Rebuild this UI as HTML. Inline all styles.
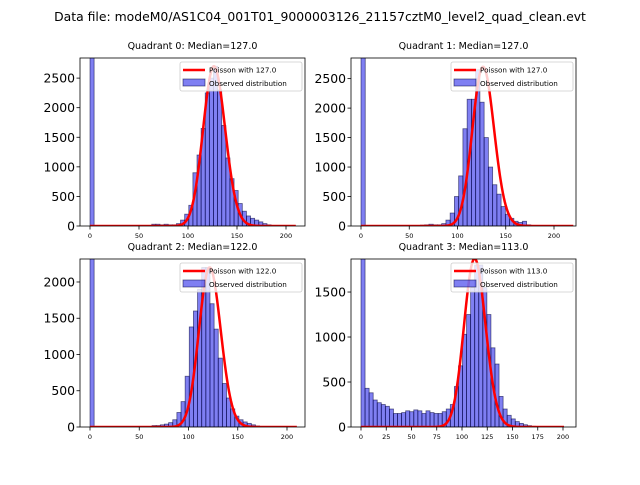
<!DOCTYPE html>
<html><head><meta charset="utf-8">
<style>
body{margin:0;background:#fff;width:640px;height:480px;overflow:hidden;font-family:"Liberation Sans","DejaVu Sans",sans-serif;}
svg text{font-family:"DejaVu Sans","Liberation Sans",sans-serif;}
</style></head>
<body>
<svg id="fig" width="640" height="480" xmlns="http://www.w3.org/2000/svg">
<rect width="640" height="480" fill="#fff"/>
<text x="320" y="21" text-anchor="middle" font-size="12.4">Data file: modeM0/AS1C04_001T01_9000003126_21157cztM0_level2_quad_clean.evt</text>
</svg>
<script>
// Quadrant data
const quadTitles = ["Quadrant 0: Median=127.0","Quadrant 1: Median=127.0","Quadrant 2: Median=122.0","Quadrant 3: Median=113.0"];
const medians = [127, 127, 122, 113];
const binWidths = [4.2, 4.4, 4.2, 4.02];
const xMaxData = [210, 220, 210, 201];
const yMaxes = [2840, 2850, 2317, 1867];
const yTicks0 = [0,500,1000,1500,2000,2500];
const yTicks1 = [0,500,1000,1500,2000,2500];
const yTicks2 = [0,500,1000,1500,2000];
const yTicks3 = [0,500,1000,1500];
const xTicks012 = [0,50,100,150,200];
const xTicks3 = [0,25,50,75,100,125,150,175,200];
const poissonPeaks = [2700, 2700, 2200, 1870];
const counts0 = [6000,0,0,0,0,0,0,0,0,0,0,0,0,0,0,30,30,20,30,20,20,40,100,200,350,900,1200,1650,2250,2500,2700,2300,1700,1150,800,600,380,250,170,130,100,70,40,20,10,5,3,0,0,0];
const counts1 = [6000,0,0,0,0,0,0,0,0,0,0,0,0,0,15,20,30,20,20,40,100,220,500,850,1650,2150,2150,2650,2100,1500,1000,700,540,330,200,130,80,60,80,20,10,5,0,0,0,0,0,0,0,0];
const counts2 = [6000,0,0,0,0,0,0,0,0,0,0,0,0,0,0,20,20,30,40,60,100,200,350,700,1380,1600,1900,2200,2200,1700,1350,950,600,400,250,150,100,70,50,30,15,8,4,2,0,0,0,0,0,0];
const counts3 = [6000,430,380,300,270,250,230,200,150,150,160,180,170,190,180,150,180,160,150,150,170,200,250,450,680,1030,1250,1550,1800,1800,1550,1250,880,700,340,200,130,90,60,40,25,15,8,3,0,0,0,0,0,0];
const allCounts = [counts0, counts1, counts2, counts3];
const allYTicks = [yTicks0, yTicks1, yTicks2, yTicks3];
const allXTicks = [xTicks012, xTicks012, xTicks012, xTicks3];

const boxes = [
 {l:80,r:305,t:58,b:226,x0:90,x200:286},
 {l:351,r:576,t:58,b:226,x0:361,x200:554},
 {l:80,r:305,t:259,b:427,x0:90,x200:287},
 {l:351,r:576,t:259,b:427,x0:361,x200:563}
];
const NS="http://www.w3.org/2000/svg";
const svg=document.getElementById('fig');
function mk(tag,attrs,parent){const e=document.createElementNS(NS,tag);for(const k in attrs)e.setAttribute(k,attrs[k]);(parent||svg).appendChild(e);return e;}
function lnPois(k,lam){let s=0;for(let i=2;i<=k;i++)s+=Math.log(i);return k*Math.log(lam)-lam-s;}

for(let q=0;q<4;q++){
 const B=boxes[q];
 const g=mk('g',{});
 
 
 const sx=v=>B.x0+(B.x200-B.x0)*v/200;
 const sy=v=>B.b-(B.b-B.t)*v/yMaxes[q];
 const clipId='c'+q;
 const cp=mk('clipPath',{id:clipId},g);
 mk('rect',{x:B.l,y:B.t,width:B.r-B.l,height:B.b-B.t},cp);
 const plot=mk('g',{'clip-path':'url(#'+clipId+')'},g);
 const bw=binWidths[q];
 allCounts[q].forEach((c,i)=>{
  if(c<=0)return;
  const r=mk('rect',{x:sx(i*bw),y:sy(c),width:sx((i+1)*bw)-sx(i*bw),height:sy(0)-sy(c),fill:'rgba(0,0,230,0.5)',stroke:'rgba(0,0,60,0.6)','stroke-width':0.8},plot);
  
  
 });
 const lam=medians[q];const peakLn=lnPois(Math.floor(lam),lam);
 let pts=[];
 for(let k=0;k<=xMaxData[q];k++){const v=poissonPeaks[q]*Math.exp(lnPois(k,lam)-peakLn);pts.push(sx(k).toFixed(2)+','+sy(v).toFixed(2));}
 const pl=mk('polyline',{points:pts.join(' '),fill:'none',stroke:'#f00','stroke-width':2.5,'stroke-linejoin':'round'},plot);
 
 
 const fr=mk('rect',{x:B.l,y:B.t,width:B.r-B.l,height:B.b-B.t,fill:'none',stroke:'#000','stroke-width':0.8},g);
 
 
 const tt=mk('text',{x:(B.l+B.r)/2,y:B.t-9,'text-anchor':'middle','font-size':9.5},g);
 tt.textContent=quadTitles[q];
 
 
 allYTicks[q].forEach(v=>{
  const y=sy(v);
  mk('line',{x1:B.l-3.5,x2:B.l,y1:y,y2:y,stroke:'#000','stroke-width':0.8},g);
  const t=mk('text',{x:B.l-5,y:y+4.5,'text-anchor':'end','font-size':12.4},g);
  t.textContent=v;
  
  
 });
 allXTicks[q].forEach(v=>{
  const x=sx(v);
  mk('line',{x1:x,x2:x,y1:B.b,y2:B.b+3.5,stroke:'#000','stroke-width':0.8},g);
  const t=mk('text',{x:x,y:B.b+12,'text-anchor':'middle','font-size':6.5},g);
  t.textContent=v;
  
  
 });
 const lg=mk('g',{},g);
 
 
 const lx=B.r-125,ly=B.t+4;
 mk('rect',{x:lx,y:ly,width:122,height:29,fill:'rgba(255,255,255,0.8)',stroke:'#ccc','stroke-width':0.8,rx:2},lg);
 mk('line',{x1:lx+3,x2:lx+25,y1:ly+8,y2:ly+8,stroke:'#f00','stroke-width':2.5},lg);
 const t1=mk('text',{x:lx+29,y:ly+10.5,'font-size':7.2},lg);
 t1.textContent='Poisson with '+medians[q].toFixed(1);
 
 
 mk('rect',{x:lx+3,y:ly+17,width:22,height:7,fill:'rgba(0,0,230,0.5)',stroke:'rgba(0,0,60,0.6)','stroke-width':0.8},lg);
 const t2=mk('text',{x:lx+29,y:ly+24,'font-size':7.2},lg);
 t2.textContent='Observed distribution';
 
 
}
</script>
</body></html>
